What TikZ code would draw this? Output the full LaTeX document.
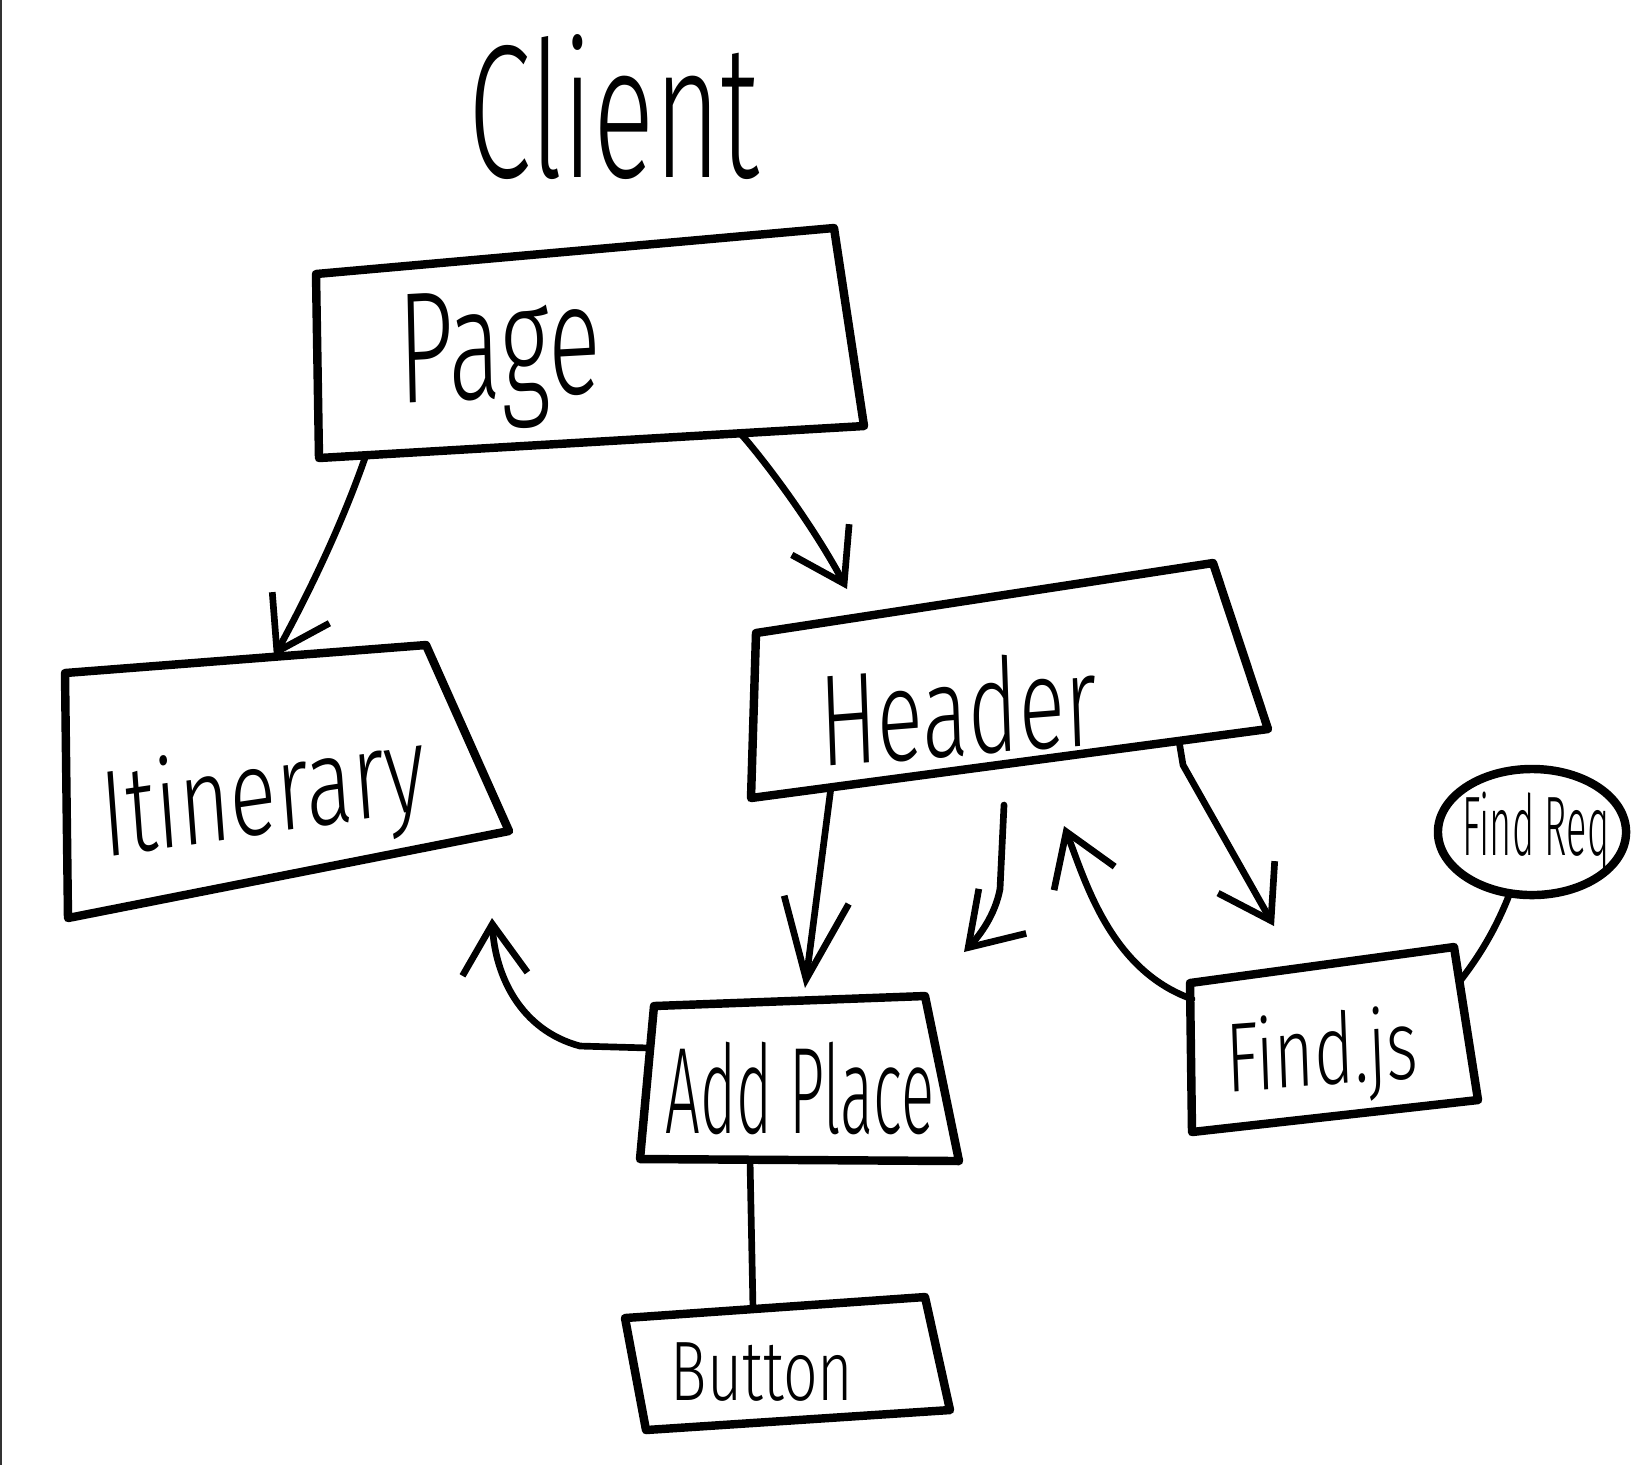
\documentclass[tikz,border=0pt]{standalone}
\usepackage{fontspec}
\setmainfont{Fira Sans Light}
\usetikzlibrary{arrows.meta,shapes.geometric}

\begin{document}
\begin{tikzpicture}[x=0.01cm, y=-0.01cm,
  box/.style={line width=2.4pt, line join=round, line cap=round},
  link/.style={line width=1.9pt, line cap=round, line join=round},
  arr/.style={link, -{Straight Barb[length=5mm,width=6.5mm,line width=1.9pt]}},
  longarr/.style={link, -{Straight Barb[length=8mm,width=6.5mm,line width=1.9pt]}},
  lbl/.style={inner sep=0pt, transform shape}]
\useasboundingbox (0,0) rectangle (1640,1465);
\draw[line width=0.6pt, color=black!80] (1,0) -- (1,1465);

\node[lbl, xscale=0.6, font=\fontsize{54}{54}\selectfont] (client) at (614,107) {Client};

\draw[box] (316,274) -- (834,228) -- (864,426) -- (319,458) -- cycle;
\node[lbl, xscale=0.62, rotate=2, font=\fontsize{45}{45}\selectfont] (page) at (500,360) {Page};

\draw[box] (65,673) -- (426,645) -- (509,831) -- (68,918) -- cycle;
\node[lbl, xscale=0.71, rotate=6, font=\fontsize{35}{35}\selectfont] (itin) at (264,800) {Itinerary};

\draw[box] (756,633) -- (1213,563) -- (1268,729) -- (751,798) -- cycle;
\node[lbl, xscale=0.66, rotate=3, font=\fontsize{37}{37}\selectfont] (header) at (958,708) {Header};

\draw[box] (654,1006) -- (925,996) -- (959,1161) -- (640,1159) -- cycle;
\node[lbl, xscale=0.5, font=\fontsize{35}{35}\selectfont] (add) at (800,1088) {Add Place};

\draw[box] (1190,983) -- (1454,947) -- (1478,1100) -- (1192,1132) -- cycle;
\node[lbl, xscale=0.69, rotate=3, font=\fontsize{28}{28}\selectfont] (findjs) at (1322,1058) {Find.js};

\draw[box] (625,1318) -- (925,1297) -- (950,1410) -- (646,1430) -- cycle;
\node[lbl, xscale=0.72, font=\fontsize{24}{24}\selectfont] (button) at (762,1372) {Button};

\node[box, draw, ellipse, minimum width=1.88cm, minimum height=1.26cm] (freq) at (1532,832) {};
\node[lbl, xscale=0.45, font=\fontsize{24}{24}\selectfont] (freqtxt) at (1536,832) {Find Req};

\coordinate (page-l) at (366,455);
\coordinate (page-r) at (740,433);
\coordinate (itin-t) at (274,657);
\coordinate (itin-b) at (492,918);
\coordinate (header-t) at (847,589);
\coordinate (header-l) at (831,787);
\coordinate (header-r) at (1179,741);
\coordinate (header-b) at (1064,826);
\coordinate (add-t) at (805,988);
\coordinate (add-l) at (650,1048);
\coordinate (add-b) at (750,1160);
\coordinate (button-t) at (753,1309);
\coordinate (findjs-l) at (1192,999);
\coordinate (findjs-t) at (1274,926);
\coordinate (findjs-r) at (1460,981);
\coordinate (free-a) at (1004,805);
\coordinate (free-b) at (964,952);

\draw[arr] (page-l) .. controls (340,530) and (305,600) .. (itin-t);
\draw[arr] (page-r) .. controls (760,455) and (810,520) .. (header-t);
\draw[longarr] (header-l) -- (add-t);
\draw[arr] (free-a) -- (1000,889) .. controls (995,915) and (980,935) .. (free-b);
\draw[arr] (findjs-l) .. controls (1110,970) and (1085,880) .. (header-b);
\draw[arr] (header-r) -- (1183,765) -- (findjs-t);
\draw[arr] (add-l) -- (580,1046) .. controls (520,1030) and (495,975) .. (itin-b);
\draw[link] (freq.250) .. controls (1495,930) and (1480,955) .. (findjs-r);
\draw[link] (add-b) -- (button-t);
\end{tikzpicture}
\end{document}
